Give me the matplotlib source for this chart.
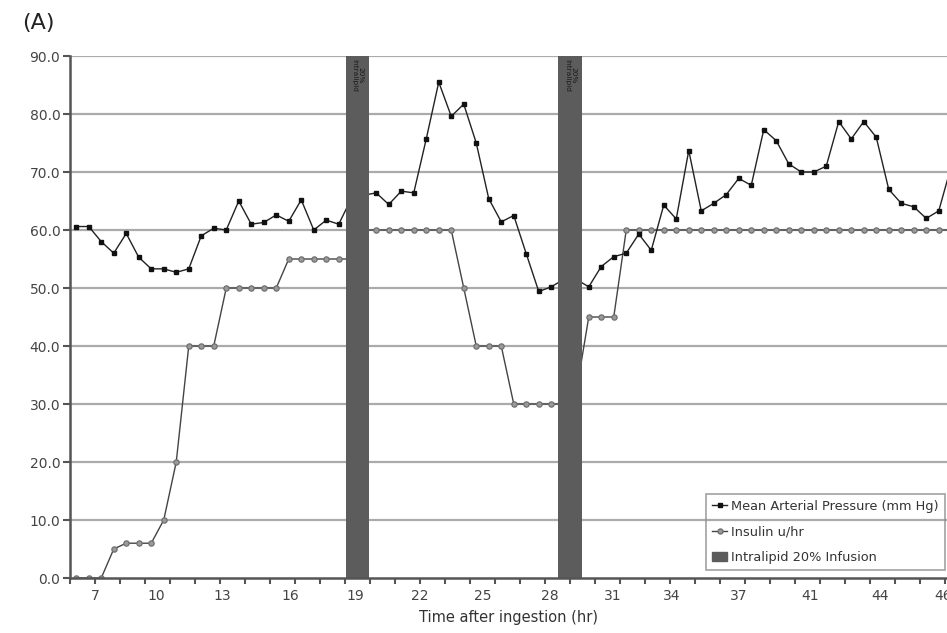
import matplotlib
matplotlib.use('Agg')
import matplotlib.pyplot as plt
from matplotlib.lines import Line2D
from matplotlib.patches import Patch
import numpy as np

# Mean arterial pressure (mm Hg), one value per time category
map_values = [60.6, 60.6, 58.0, 56.0, 59.4, 55.3, 53.3, 53.3, 52.7, 53.3,
              59.0, 60.3, 60.0, 65.0, 61.0, 61.3, 62.6, 61.5, 65.2, 60.0,
              61.7, 61.0, 65.4, 66.0, 66.4, 64.4, 66.7, 66.4, 75.7, 85.5,
              79.6, 81.7, 75.0, 65.4, 61.4, 62.5, 55.9, 49.4, 50.2, 51.5,
              51.5, 50.2, 53.7, 55.4, 56.0, 59.3, 56.5, 64.3, 61.9, 73.7,
              63.3, 64.6, 66.1, 68.9, 67.7, 77.3, 75.4, 71.4, 70.0, 70.0,
              71.0, 78.7, 75.7, 78.7, 76.0, 67.0, 64.6, 64.0, 62.0, 63.3, 71.0]

# Insulin u/hr, one value per time category
insulin_values = ([0, 0, 0, 5, 6, 6, 6, 10, 20, 40, 40, 40]
                  + [50] * 5 + [55] * 5 + [55, 60] + [60] * 7
                  + [50, 40, 40, 40] + [30] * 4 + [30, 32]
                  + [45] * 3 + [60] * 27)

# Intralipid 20% infusion: first category covered, full-height value
infusion_start = [22, 39]
infusion_value = [90, 90]
infusion_text = "20%\nIntralipid"

# x-axis tick labels (hours after ingestion) and their category positions
tick_labels = ["7", "10", "13", "16", "19", "22", "25", "28", "31", "34",
               "37", "41", "44", "46"]
tick_label_pos = [1.5, 6.38, 11.66, 17.1, 22.3, 27.5, 32.54, 37.9, 42.94,
                  47.66, 53.02, 58.7, 64.3, 69.34]

yticks = np.arange(0, 91, 10)

W, H = 947, 633
fig = plt.figure(figsize=(W / 100, H / 100), dpi=100)
ax = fig.add_axes([70 / W, (H - 578) / H, (W - 70) / W, (578 - 56) / H])
ax.xaxis.remove_overlapping_locs = False

cats = np.arange(len(map_values))

ax.set_ylim(0, 90)
ax.set_xlim(-0.5, (W - 70) / 12.5 - 0.5)

for y in yticks[1:]:
    ax.axhline(y, color='#ababab', lw=1.6, zorder=1)

ax.plot(cats, insulin_values, color='#444444', lw=1.0, marker='o', ms=3.8,
        mfc='#9a9a9a', mec='#707070', mew=0.9, zorder=2)
ax.plot(cats, map_values, color='#222222', lw=1.0, marker='s', ms=3.4,
        mfc='#111111', mec='#111111', zorder=2.5)

for s, v in zip(infusion_start, infusion_value):
    xc = s + 0.5
    ax.bar(xc, v, width=1.9, color='#5c5c5c', zorder=3, align='center')
    ax.text(xc, v - 0.5, infusion_text, rotation=270, ha='center', va='top',
            fontsize=5.3, color='#1a1a1a', zorder=4, linespacing=1.0)

for side in ['top', 'right']:
    ax.spines[side].set_visible(False)
for side in ['left', 'bottom']:
    ax.spines[side].set_color('#555555')
    ax.spines[side].set_linewidth(1.8)
    ax.spines[side].set_zorder(5)

ax.set_yticks(yticks)
ax.set_yticklabels([f"{v:.1f}" for v in yticks], fontsize=10, color='#444444')
ax.tick_params(axis='y', direction='out', length=5, width=1.5, color='#555555', pad=2)

ax.set_xticks(np.arange(-0.5, 70, 2))
ax.set_xticklabels([])
ax.tick_params(axis='x', which='major', direction='out', length=4, width=1.5, color='#555555')
ax.set_xticks(tick_label_pos, minor=True)
ax.set_xticklabels(tick_labels, minor=True, fontsize=10, color='#444444')
ax.tick_params(axis='x', which='minor', length=0, pad=8)

ax.set_xlabel("Time after ingestion (hr)", fontsize=10.5, color='#333333', labelpad=5)

fig.text(22 / W, 1 - 23 / H, "(A)", fontsize=16, color='#222222',
         va='center', ha='left')

handles = [
    Line2D([], [], color='#222222', lw=1.0, marker='s', ms=3.4, mfc='#111111', mec='#111111'),
    Line2D([], [], color='#444444', lw=1.0, marker='o', ms=3.6, mfc='#9a9a9a', mec='#707070'),
    Patch(facecolor='#5c5c5c', edgecolor='#5c5c5c'),
]
labels = ["Mean Arterial Pressure (mm Hg)", "Insulin u/hr", "Intralipid 20% Infusion"]
leg = fig.legend(handles, labels, loc='lower left',
                 bbox_to_anchor=(706 / W, (H - 570) / H), fontsize=9.3,
                 fancybox=False, handlelength=1.1, handletextpad=0.35,
                 labelspacing=0.95, borderpad=0.5, borderaxespad=0)
leg.get_frame().set_facecolor('none')
leg.get_frame().set_edgecolor('#8a8a8a')
leg.get_frame().set_linewidth(1.2)
for t in leg.get_texts():
    t.set_color('#333333')

fig.savefig('out.png', dpi=100)
